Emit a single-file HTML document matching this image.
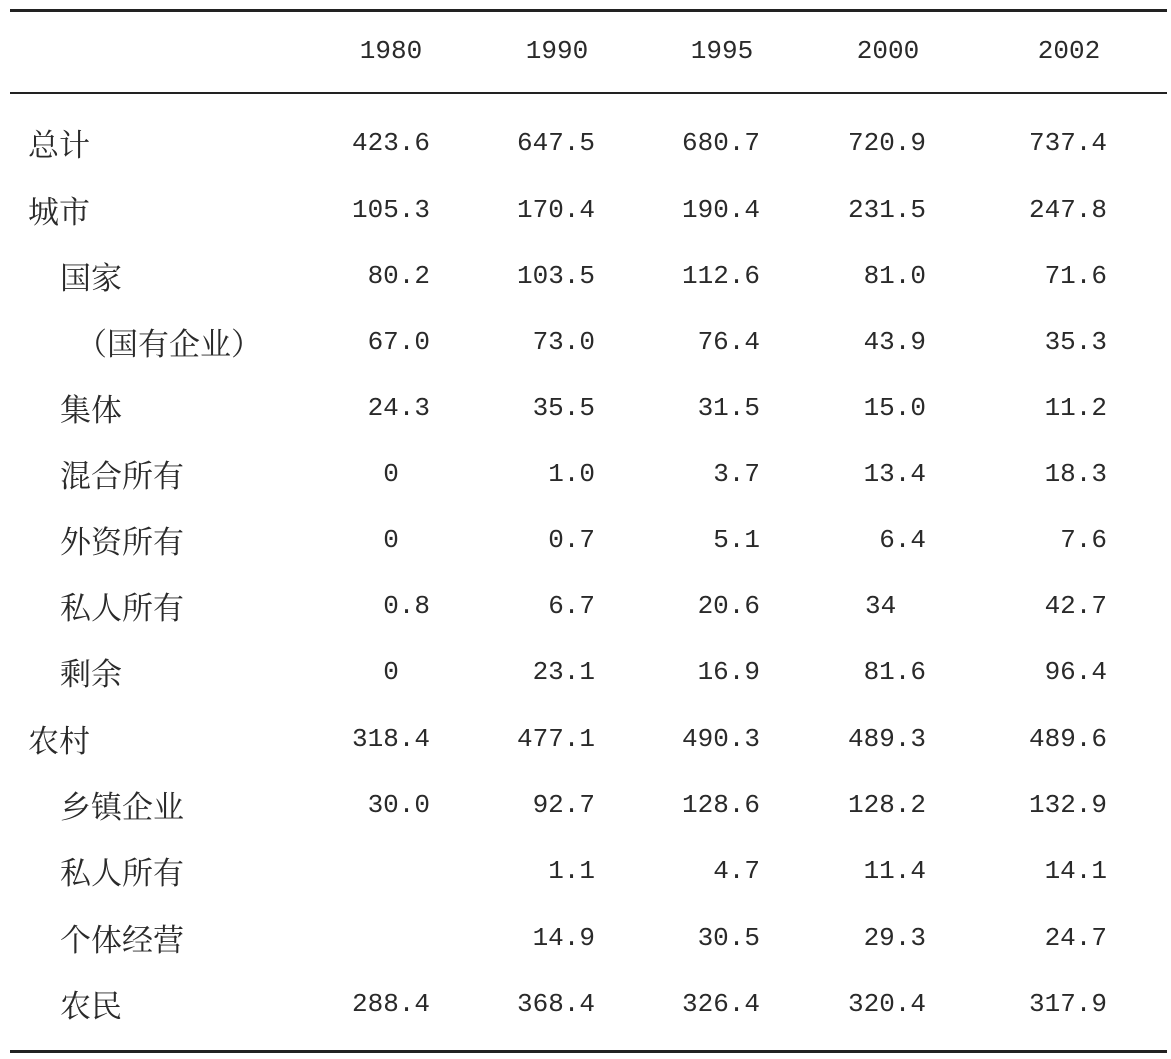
<!DOCTYPE html>
<html><head><meta charset="utf-8"><style>
body{margin:0;width:1171px;height:1059px;background:#fff;position:relative;overflow:hidden;color:#2a2a2a}
.l{position:absolute;left:10px;width:1157px;background:#222}
.t{position:absolute;height:40px;line-height:40px;font-family:"Noto Serif CJK SC","Noto Sans CJK SC",serif;font-size:31px;white-space:nowrap}
.n{position:absolute;height:40px;line-height:40px;font-family:"Liberation Mono",monospace;font-size:26px;white-space:nowrap;text-align:right;width:200px}
.h{position:absolute;height:40px;line-height:40px;font-family:"Liberation Mono",monospace;font-size:26px;text-align:center;width:120px;top:31px}
</style></head><body>
<div class="l" style="top:9px;height:3px"></div>
<div class="l" style="top:92px;height:2px"></div>
<div class="l" style="top:1050px;height:3px"></div>
<div class="h" style="left:331px">1980</div>
<div class="h" style="left:497px">1990</div>
<div class="h" style="left:662px">1995</div>
<div class="h" style="left:828px">2000</div>
<div class="h" style="left:1009px">2002</div>
<div id="rows"></div>
<script>
var rows=[
["总计",28,["423.6","647.5","680.7","720.9","737.4"]],
["城市",28,["105.3","170.4","190.4","231.5","247.8"]],
["国家",60,["80.2","103.5","112.6","81.0","71.6"]],
["（国有企业）",76,["67.0","73.0","76.4","43.9","35.3"]],
["集体",60,["24.3","35.5","31.5","15.0","11.2"]],
["混合所有",60,["0c","1.0","3.7","13.4","18.3"]],
["外资所有",60,["0c","0.7","5.1","6.4","7.6"]],
["私人所有",60,["0.8","6.7","20.6","34L","42.7"]],
["剩余",60,["0c","23.1","16.9","81.6","96.4"]],
["农村",28,["318.4","477.1","490.3","489.3","489.6"]],
["乡镇企业",60,["30.0","92.7","128.6","128.2","132.9"]],
["私人所有",60,["","1.1","4.7","11.4","14.1"]],
["个体经营",60,["","14.9","30.5","29.3","24.7"]],
["农民",60,["288.4","368.4","326.4","320.4","317.9"]]];
var ys=[143,210,276,342,408,474,540,606,672,739,805,871,938,1004];
var rs=[430,595,760,926,1107];
var h="";
rows.forEach(function(r,i){
 var top=ys[i]-20;
 h+='<div class="t" style="left:'+r[1]+'px;top:'+top+'px">'+r[0]+'</div>';
 r[2].forEach(function(v,j){
  if(!v)return;
  if(v.slice(-1)=="c"){h+='<div class="n" style="text-align:center;left:'+(391-100)+'px;top:'+top+'px">'+v.slice(0,-1)+'</div>';}
  else if(v.slice(-1)=="L"){h+='<div class="n" style="text-align:left;left:865px;top:'+top+'px">'+v.slice(0,-1)+'</div>';}
  else h+='<div class="n" style="left:'+(rs[j]-200)+'px;top:'+top+'px">'+v+'</div>';
 });
});
document.getElementById("rows").innerHTML=h;
</script>
</body></html>
